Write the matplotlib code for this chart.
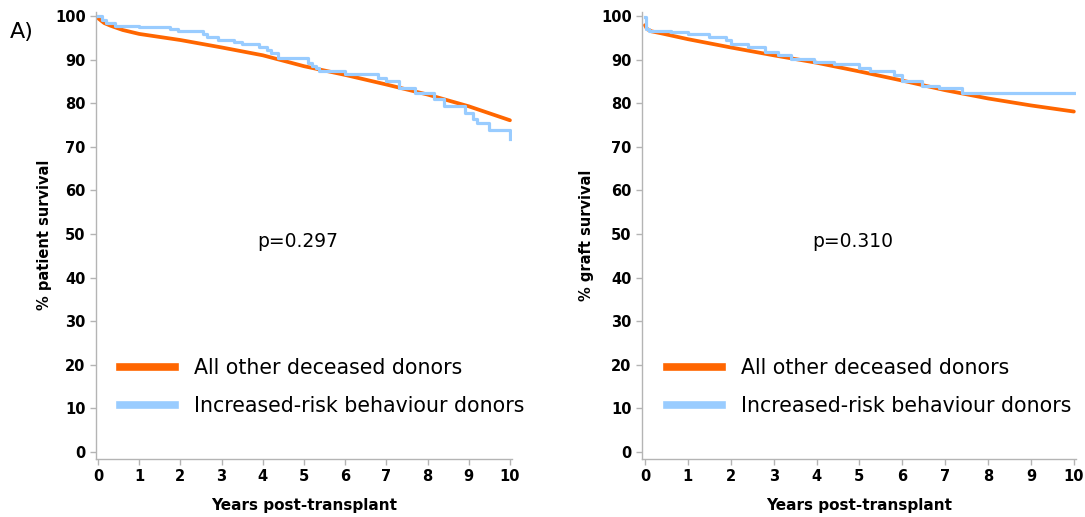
import matplotlib
matplotlib.use("Agg")
import matplotlib.pyplot as plt
from matplotlib.lines import Line2D

plt.rcParams['font.family'] = ['DejaVu Sans']

# Patient survival (%)
pat_other_years = [0, 0.15, 0.3, 0.6, 1, 2, 3, 4, 5, 6, 7, 8, 9, 10]
pat_other_surv = [99.5, 98.4, 97.8, 96.8, 95.9, 94.5, 92.8, 91.0, 88.5, 86.5, 84.3, 82.0, 79.3, 76.1]
pat_irb_years = [0, 0.1, 0.2, 0.4, 1.0, 1.74, 1.94, 2.55, 2.65, 2.9, 3.3, 3.5, 3.9, 4.1, 4.2,
                 4.37, 5.1, 5.2, 5.3, 5.36, 6.0, 6.8, 7.0, 7.3, 7.7, 8.15, 8.4, 8.9, 9.1, 9.2, 9.5]
pat_irb_surv = [100, 99.0, 98.3, 97.7, 97.4, 97.1, 96.6, 95.8, 95.3, 94.6, 94.1, 93.6, 93.0, 92.2, 91.5,
                90.3, 89.2, 88.6, 88.1, 87.5, 86.7, 85.8, 85.0, 83.6, 82.4, 80.9, 79.4, 77.7, 76.5, 75.4, 73.8]
pat_irb_end = 71.7

# Graft survival (%)
gr_other_years = [0, 0.05, 0.15, 0.4, 1, 2, 3, 4, 5, 6, 7, 8, 9, 10]
gr_other_surv = [97.9, 97.0, 96.5, 96.0, 94.7, 92.8, 91.0, 89.3, 87.3, 85.2, 83.0, 81.1, 79.5, 78.1]
gr_irb_years = [0, 0.03, 0.1, 0.6, 1.0, 1.5, 1.9, 2.0, 2.4, 2.8, 3.1, 3.4, 3.95, 4.4, 5.0, 5.25,
                5.8, 6.0, 6.45, 6.85, 7.4]
gr_irb_surv = [99.8, 97.0, 96.6, 96.3, 95.8, 95.2, 94.4, 93.5, 93.0, 91.8, 91.0, 90.1, 89.5, 89.0, 88.0, 87.5,
               86.5, 85.1, 84.0, 83.5, 82.3]
gr_irb_end = 82.3

series_labels = ["All other deceased donors", "Increased-risk behaviour donors"]
y_labels = ["% patient survival", "% graft survival"]
p_values = ["p=0.297", "p=0.310"]
x_ticks = list(range(0, 11))
y_ticks = list(range(0, 101, 10))

ORANGE = "#FF6600"
BLUE = "#99CCFF"
GRAY = "#b4b4b4"

fig = plt.figure(figsize=(10.85, 5.17), dpi=100)
ax1 = fig.add_axes([96 / 1085, (517 - 458.6) / 517, 416 / 1085, (458.6 - 11.7) / 517])
ax2 = fig.add_axes([642 / 1085, (517 - 458.6) / 517, 434 / 1085, (458.6 - 11.7) / 517])

panels = [
    (ax1, pat_other_years, pat_other_surv, pat_irb_years, pat_irb_surv, pat_irb_end, y_labels[0], p_values[0], -0.05, 2),
    (ax2, gr_other_years, gr_other_surv, gr_irb_years, gr_irb_surv, gr_irb_end, y_labels[1], p_values[1], -0.07, 5),
]

for ax, ox, oy, bx, by, bend, ylab, pval, xmin, ypad in panels:
    ax.plot(ox, oy, color=ORANGE, lw=2.7, solid_capstyle='round', zorder=2)
    ax.step(bx + [10], by + [bend], where='post', color=BLUE, lw=2.3, zorder=3)
    ax.set_xlim(xmin, 10.05)
    ax.set_ylim(-1.5, 101)
    ax.set_xticks(x_ticks)
    ax.set_yticks(y_ticks)
    for s in ['top', 'right']:
        ax.spines[s].set_visible(False)
    for s in ['left', 'bottom']:
        ax.spines[s].set_color(GRAY)
        ax.spines[s].set_linewidth(1.0)
    ax.tick_params(axis='both', colors=GRAY, length=4, width=1.0, labelcolor='black', labelsize=10.5)
    for lab in ax.get_xticklabels() + ax.get_yticklabels():
        lab.set_fontweight('bold')
    ax.set_xlabel("Years post-transplant", fontsize=11, fontweight='bold', labelpad=10)
    ax.set_ylabel(ylab, fontsize=10.5, fontweight='bold', labelpad=ypad)
    ax.text(4.85, 48.2, pval, fontsize=13.5, ha='center', va='center')
    handles = [Line2D([], [], color=ORANGE, lw=5.5), Line2D([], [], color=BLUE, lw=5.5)]
    ax.legend(handles, series_labels, loc='upper left', bbox_to_anchor=(0.058, 0.224),
              frameon=False, fontsize=14.8, handlelength=2.65, handletextpad=0.95,
              labelspacing=0.85, borderaxespad=0, borderpad=0)

fig.text(10 / 1085, 1 - 32 / 517, "A)", fontsize=16, va='center', ha='left')

fig.savefig("out.png", dpi=100)
